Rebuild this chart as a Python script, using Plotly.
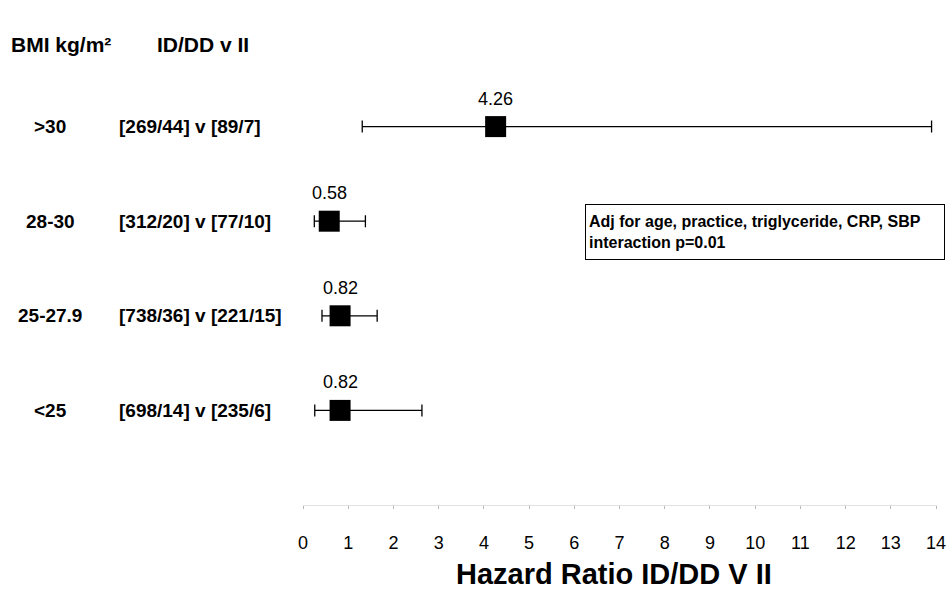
import plotly.graph_objects as go

# Subgroups by BMI band
bmi_groups = [">30", "28-30", "25-27.9", "<25"]
event_counts = ["[269/44] v [89/7]", "[312/20] v [77/10]",
                "[738/36] v [221/15]", "[698/14] v [235/6]"]
hazard_ratio = [4.26, 0.58, 0.82, 0.82]
ci_low = [1.31, 0.25, 0.42, 0.26]
ci_high = [13.9, 1.38, 1.64, 2.63]
x_ticks = list(range(0, 15))

W, H = 949, 590
M_L, M_R, M_T, M_B = 303, 12, 32, 85
PLOT_W = W - M_L - M_R
PLOT_H = H - M_T - M_B

# rows from top to bottom
n = len(bmi_groups)
row_y = [n - i for i in range(n)]

FONT = "Arial, Liberation Sans, sans-serif"


def px_to_paper_x(px):
    return (px - M_L) / PLOT_W


def px_to_paper_y(py):
    return (H - M_B - py) / PLOT_H


fig = go.Figure()
fig.add_trace(go.Scatter(
    x=hazard_ratio,
    y=row_y,
    mode="markers",
    marker=dict(symbol="square", size=21, color="black"),
    error_x=dict(
        type="data",
        symmetric=False,
        array=[h - v for h, v in zip(ci_high, hazard_ratio)],
        arrayminus=[v - l for v, l in zip(hazard_ratio, ci_low)],
        color="black",
        thickness=1.3,
        width=6,
    ),
    showlegend=False,
    hoverinfo="skip",
))

annotations = []
# value labels above each marker
for v, y in zip(hazard_ratio, row_y):
    annotations.append(dict(
        x=v, y=y, xref="x", yref="y", text=f"{v:.2f}",
        showarrow=False, yshift=28,
        font=dict(family=FONT, size=18, color="black"),
    ))

# left-hand columns
for lab, cnt, y in zip(bmi_groups, event_counts, row_y):
    annotations.append(dict(
        x=px_to_paper_x(50), y=y, xref="paper", yref="y", text=f"<b>{lab}</b>",
        showarrow=False, xanchor="center",
        font=dict(family=FONT, size=19, color="black"),
    ))
    annotations.append(dict(
        x=px_to_paper_x(117), y=y, xref="paper", yref="y", text=f"<b>{cnt}</b>",
        showarrow=False, xanchor="left",
        font=dict(family=FONT, size=19, color="black"),
    ))

# column headers
annotations.append(dict(
    x=px_to_paper_x(9), y=px_to_paper_y(45), xref="paper", yref="paper",
    text="<b>BMI kg/m²</b>", showarrow=False, xanchor="left", yanchor="middle",
    font=dict(family=FONT, size=21, color="black"),
))
annotations.append(dict(
    x=px_to_paper_x(155), y=px_to_paper_y(45), xref="paper", yref="paper",
    text="<b>ID/DD v II</b>", showarrow=False, xanchor="left", yanchor="middle",
    font=dict(family=FONT, size=21, color="black"),
))

# adjustment note box
annotations.append(dict(
    x=px_to_paper_x(585), y=px_to_paper_y(204), xref="paper", yref="paper",
    xanchor="left", yanchor="top",
    text="<b>Adj for age, practice, triglyceride, CRP, SBP<br>interaction p=0.01</b>",
    align="left", showarrow=False,
    width=352, height=48, valign="middle",
    bordercolor="black", borderwidth=1, borderpad=3, bgcolor="white",
    font=dict(family=FONT, size=16, color="black"),
))

# axis title
annotations.append(dict(
    x=px_to_paper_x(614), y=px_to_paper_y(574), xref="paper", yref="paper",
    text="<b>Hazard Ratio ID/DD V II</b>", showarrow=False,
    xanchor="center", yanchor="middle",
    font=dict(family=FONT, size=29, color="black"),
))

fig.update_layout(
    width=W, height=H,
    margin=dict(l=M_L, r=M_R, t=M_T, b=M_B, autoexpand=False),
    paper_bgcolor="white", plot_bgcolor="white",
    annotations=annotations,
    xaxis=dict(
        range=[0, 14.02],
        tickvals=x_ticks,
        ticktext=[str(t) for t in x_ticks],
        automargin=False,
        showgrid=False, zeroline=False,
        showline=True, linecolor="#e2e2e2", linewidth=1,
        ticks="outside", ticklen=3, tickcolor="#b8b8b8",
        ticklabelstandoff=18,
        ticklabeloverflow="allow",
        tickfont=dict(family=FONT, size=18, color="black"),
    ),
    yaxis=dict(
        range=[0, n + 1],
        visible=False,
        showgrid=False, zeroline=False,
    ),
)

fig.write_html("out.html")
